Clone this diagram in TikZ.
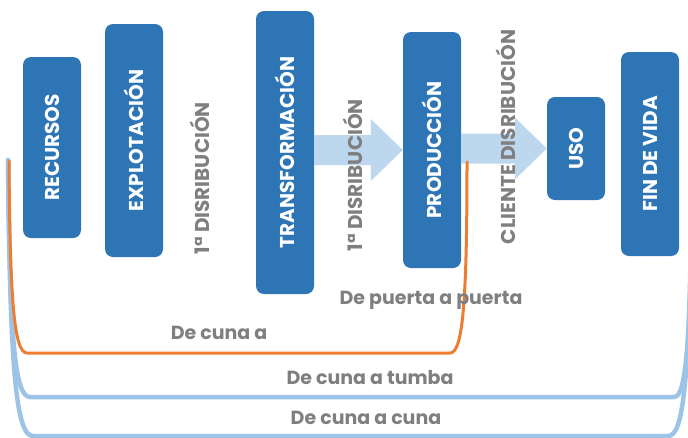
\documentclass[tikz,border=0pt]{standalone}
\usepackage{fontspec}
\setmainfont{Poppins}
\usetikzlibrary{calc}
\definecolor{etapaazul}{HTML}{2E75B6}
\definecolor{flechaazul}{HTML}{BDD7EE}
\definecolor{grisrotulo}{HTML}{7F7F7F}
\definecolor{naranja}{HTML}{ED7D31}
\definecolor{celeste}{HTML}{9DC3E6}
\newcommand{\flechagorda}[2]{\fill[flechaazul] let \p1 = (#1), \p2 = (#2) in (\x1, \y2+15pt) -- (\x2-32pt, \y2+15pt) -- (\x2-32pt, \y2+31pt) -- (\x2, \y2) -- (\x2-32pt, \y2-31pt) -- (\x2-32pt, \y2-15pt) -- (\x1, \y2-15pt) -- cycle}
\tikzset{
  caja/.style={rectangle, rounded corners=8pt, fill=etapaazul, text=white, rotate=90,
    minimum height=58pt, inner sep=0pt, font=\bfseries\fontsize{20}{20}\selectfont},
  etiqueta/.style={text=grisrotulo, inner sep=0pt, font=\bfseries\fontsize{19}{19}\selectfont},
  llave/.style={line width=#1, line cap=round, line join=round}
}

\begin{document}
\begin{tikzpicture}[x=1pt, y=-1pt]
                \useasboundingbox (0,0) rectangle (688,437);
                \clip (0,0) rectangle (688,437);

                \node[caja, minimum width=181pt] (recursos) at (52,147.5) {RECURSOS};
                \node[caja, minimum width=233pt] (explot) at (134,140.5) {EXPLOTACIÓN};
                \node[caja, minimum width=283pt] (transf) at (285,152.5) {TRANSFORMACIÓN};
                \node[caja, minimum width=236pt] (prod) at (432,150) {PRODUCCIÓN};
                \node[caja, minimum width=103pt] (uso) at (576,148.5) {USO};
                \node[caja, minimum width=204pt] (fin) at (650,154) {FIN DE VIDA};

                \flechagorda{transf.south}{prod.north};
                \flechagorda{prod.south}{uso.north};

                % llaves de los ciclos
                \draw[llave=4.5pt, celeste] (8,160) .. controls (10,370) and (16,436) .. (33,436) -- (668,436) .. controls (684,436) and (690,380) .. (692,160);
                \draw[llave=4.5pt, celeste] (8,160) .. controls (10,335) and (14,397) .. (30,397) -- (674,397) .. controls (686,397) and (690,350) .. (694,160);
                \draw[llave=3pt, naranja] (9,161) .. controls (10,300) and (14,353) .. (27,353) -- (450,353) .. controls (463,353) and (467,300) .. (467,162);

                \node[etiqueta, rotate=90, font=\bfseries\fontsize{20}{20}\selectfont] (dist1) at (200,178) {1ª DISRIBUCIÓN};
                \node[etiqueta, rotate=90, font=\bfseries\fontsize{20}{20}\selectfont] (dist2) at (353,175) {1ª DISRIBUCIÓN};
                \node[etiqueta, rotate=90, font=\bfseries\fontsize{20}{20}\selectfont] (distcli) at (506,137) {CLIENTE DISRIBUCIÓN};

                \node[etiqueta] (cunaa) at (219,333) {De cuna a};
                \node[etiqueta] (puerta) at (431,300) {De puerta a puerta};
                \node[etiqueta] (tumba) at (370,378) {De cuna a tumba};
                \node[etiqueta] (cuna) at (366,418) {De cuna a cuna};
            \end{tikzpicture}
\end{document}
